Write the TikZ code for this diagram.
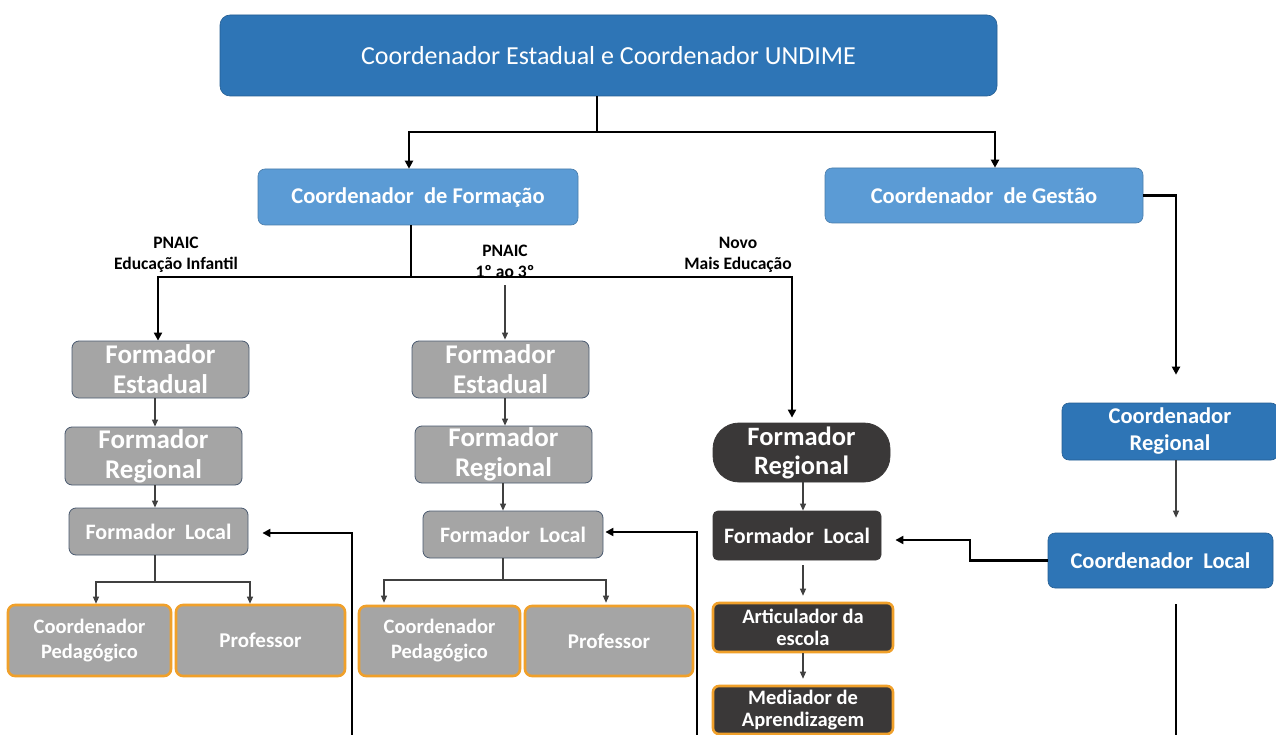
\documentclass[tikz,border=0pt]{standalone}
\usepackage{fontspec}
\setmainfont{Carlito}
\usetikzlibrary{arrows.meta,calc}
\definecolor{topblue}{HTML}{2E75B6}
\definecolor{lightblue}{HTML}{5B9BD5}
\definecolor{boxgray}{HTML}{A5A5A5}
\definecolor{slate}{HTML}{4A5A70}
\definecolor{orangeb}{HTML}{F0A02A}
\definecolor{darkfill}{HTML}{3A3838}
\definecolor{lineg}{HTML}{404040}
\tikzset{
  x=1pt,y=-1pt,
  box/.style={rectangle,rounded corners=7pt,inner sep=0pt,align=center,text=white,font=\bfseries},
  bluebox/.style={box,fill=topblue,draw=topblue!80!black,line width=0.6pt},
  lbluebox/.style={box,fill=lightblue,draw=lightblue!80!black,line width=0.6pt},
  graybox/.style={box,fill=boxgray,draw=slate,line width=0.8pt},
  graybox2/.style={box,fill=boxgray,draw=orangeb,line width=2.6pt},
  darkbox/.style={box,fill=darkfill,draw=darkfill,line width=0.8pt},
  darkbox2/.style={box,fill=darkfill,draw=orangeb,line width=2.6pt},
  thickline/.style={line width=2.2pt,black},
  thickarr/.style={line width=2.2pt,black,-{Triangle[length=8pt,width=8pt]}},
  thinarr/.style={line width=1.1pt,draw=lineg,-{Triangle[length=7pt,width=6pt]}},
  thinseg/.style={line width=1.1pt,draw=lineg},
  lbl/.style={font=\bfseries\fontsize{17.5}{21}\selectfont,align=center,inner sep=0pt}
}
\newcommand{\fs}[2]{\fontsize{#1}{#2}\selectfont}
\begin{document}
\begin{tikzpicture}
\useasboundingbox (0,0) rectangle (1276,735);
\fill[white] (0,0) rectangle (1276,735);

% nodes
\node[bluebox,font=\fs{26}{30},minimum width=777pt,minimum height=81pt,rounded corners=10pt] (top) at (608.5,55.5) {Coordenador Estadual e Coordenador UNDIME};
\node[lbluebox,font=\bfseries\fs{22.5}{26},minimum width=320pt,minimum height=56pt] (form) at (418,197) {Coordenador\ \ de Formação};
\node[lbluebox,font=\bfseries\fs{22.5}{26},minimum width=318pt,minimum height=55pt] (gest) at (984,195.5) {Coordenador\ \ de Gestão};

\node[lbl] (l1) at (176,255) {PNAIC\\Educação Infantil};
\node[lbl] (l2) at (505,261) {PNAIC\\1º ao 3º};
\node[lbl] (l3) at (738,255) {Novo\\Mais Educação};

% column 1
\node[graybox,font=\bfseries\fs{27}{30},minimum width=177pt,minimum height=57pt] (fe1) at (160.5,369.5) {Formador\\Estadual};
\node[graybox,font=\bfseries\fs{27}{30},minimum width=177pt,minimum height=58pt] (fr1) at (153.5,456) {Formador\\Regional};
\node[graybox,font=\bfseries\fs{22}{26},minimum width=179pt,minimum height=47pt] (fl1) at (158.5,531.5) {Formador\ \ Local};
\node[graybox2,font=\bfseries\fs{20.5}{25},minimum width=163pt,minimum height=71pt] (cp1) at (89.5,640.5) {Coordenador\\Pedagógico};
\node[graybox2,font=\bfseries\fs{21}{25},minimum width=169pt,minimum height=71pt] (pr1) at (260.5,640.5) {Professor};

% column 2
\node[graybox,font=\bfseries\fs{27}{30},minimum width=177pt,minimum height=57pt] (fe2) at (500.5,369.5) {Formador\\Estadual};
\node[graybox,font=\bfseries\fs{27}{30},minimum width=177pt,minimum height=57pt] (fr2) at (503.5,454.5) {Formador\\Regional};
\node[graybox,font=\bfseries\fs{22}{26},minimum width=180pt,minimum height=47pt] (fl2) at (513,534.5) {Formador\ \ Local};
\node[graybox2,font=\bfseries\fs{20.5}{25},minimum width=161pt,minimum height=70pt] (cp2) at (439.5,641) {Coordenador\\Pedagógico};
\node[graybox2,font=\bfseries\fs{21}{25},minimum width=168pt,minimum height=70pt] (pr2) at (609,641) {Professor};

% column 3
\node[darkbox,font=\bfseries\fs{26.5}{29},minimum width=177pt,minimum height=59pt,rounded corners=26pt] (fr3) at (801.5,452.5) {Formador\\Regional};
\node[darkbox,font=\bfseries\fs{22}{26},minimum width=168pt,minimum height=49pt,rounded corners=5pt] (fl3) at (797,535.5) {Formador\ \ Local};
\node[darkbox2,font=\bfseries\fs{20.5}{22},minimum width=180pt,minimum height=49pt,rounded corners=6pt] (ar3) at (803,627.5) {Articulador da\\escola};
\node[darkbox2,font=\bfseries\fs{20.5}{22},minimum width=180pt,minimum height=48pt,rounded corners=6pt] (me3) at (803,710) {Mediador de\\Aprendizagem};

% column 4
\node[bluebox,font=\bfseries\fs{22.5}{27},minimum width=216pt,minimum height=57pt] (cr4) at (1170,431.5) {Coordenador\\Regional};
\node[bluebox,font=\bfseries\fs{22.5}{26},minimum width=225pt,minimum height=55pt] (cl4) at (1160.5,560.5) {Coordenador\ \ Local};

% helper coordinates
\coordinate (j1) at (597,132);
\coordinate (j2) at (411,277);
\coordinate (m2) at (505,285);
\coordinate (x155) at (155,0);
\coordinate (x505) at (505,0);
\coordinate (x503) at (503,0);
\coordinate (x803) at (803,0);
\coordinate (x1176) at (1176,0);
\coordinate (s1) at (155,582);
\coordinate (s2) at (503,580);
\coordinate (fb1) at (352,735);
\coordinate (fb2) at (697,735);
\coordinate (fb4) at (1176,735);

% top connectors
\draw[thickline] (top.south -| j1) -- (j1);
\draw[thickarr] (j1) -| ($(form.north)+(-9,0)$);
\draw[thickarr] (j1) -| ($(gest.north)+(11,0)$);
\draw[thickline] (form.south -| j2) -- (j2);
\draw[thickarr] (j2) -| ($(fe1.north)+(-2.5,0)$);
\draw[thickarr] (j2) -| ($(fr3.north)+(-9.5,-5)$);
\draw[thinarr] (m2) -- ($(m2 |- fe2.north)+(0,-1)$);
\draw[thickarr] (gest.east) -| ($(cr4.north)+(6,-28)$);

% column 1
\draw[thinarr] (fe1.south -| x155) -- (fr1.north -| x155);
\draw[thinarr] (fr1.south -| x155) -- (fl1.north -| x155);
\draw[thinseg] (fl1.south -| x155) -- (s1);
\draw[thinarr] (s1) -| ($(cp1.north)+(6.5,0)$);
\draw[thinarr] (s1) -| ($(pr1.north)+(-10.5,0)$);
\draw[thickarr] (fb1) |- ($(fl1.east)+(14,1.5)$);

% column 2
\draw[thinarr] (fe2.south -| x505) -- (fr2.north -| x505);
\draw[thinarr] (fr2.south -| x503) -- (fl2.north -| x503);
\draw[thinseg] (fl2.south -| x503) -- (s2);
\draw[thinarr] (s2) -| ($(cp2.north)+(-55.5,-2)$);
\draw[thinarr] (s2) -| ($(pr2.north)+(-3,-2)$);
\draw[thickarr] (fb2) |- ($(fl2.east)+(2,-2.5)$);

% column 3
\draw[thinarr] (fr3.south -| x803) -- (fl3.north -| x803);
\draw[thinarr] ($(fl3.south -| x803)+(0,5)$) -- ($(ar3.north -| x803)+(0,-6)$);
\draw[thinarr] (ar3.south -| x803) -- ($(me3.north -| x803)+(0,-6)$);

% column 4
\draw[thinarr] (cr4.south -| x1176) -- ($(cl4.north -| x1176)+(0,-15)$);
\draw[thickarr] (cl4.west) -- (970,560.5) |- ($(fl3.east)+(14,4.5)$);
\draw[thickline] ($(cl4.south -| x1176)+(0,16)$) -- (fb4);
\end{tikzpicture}
\end{document}
